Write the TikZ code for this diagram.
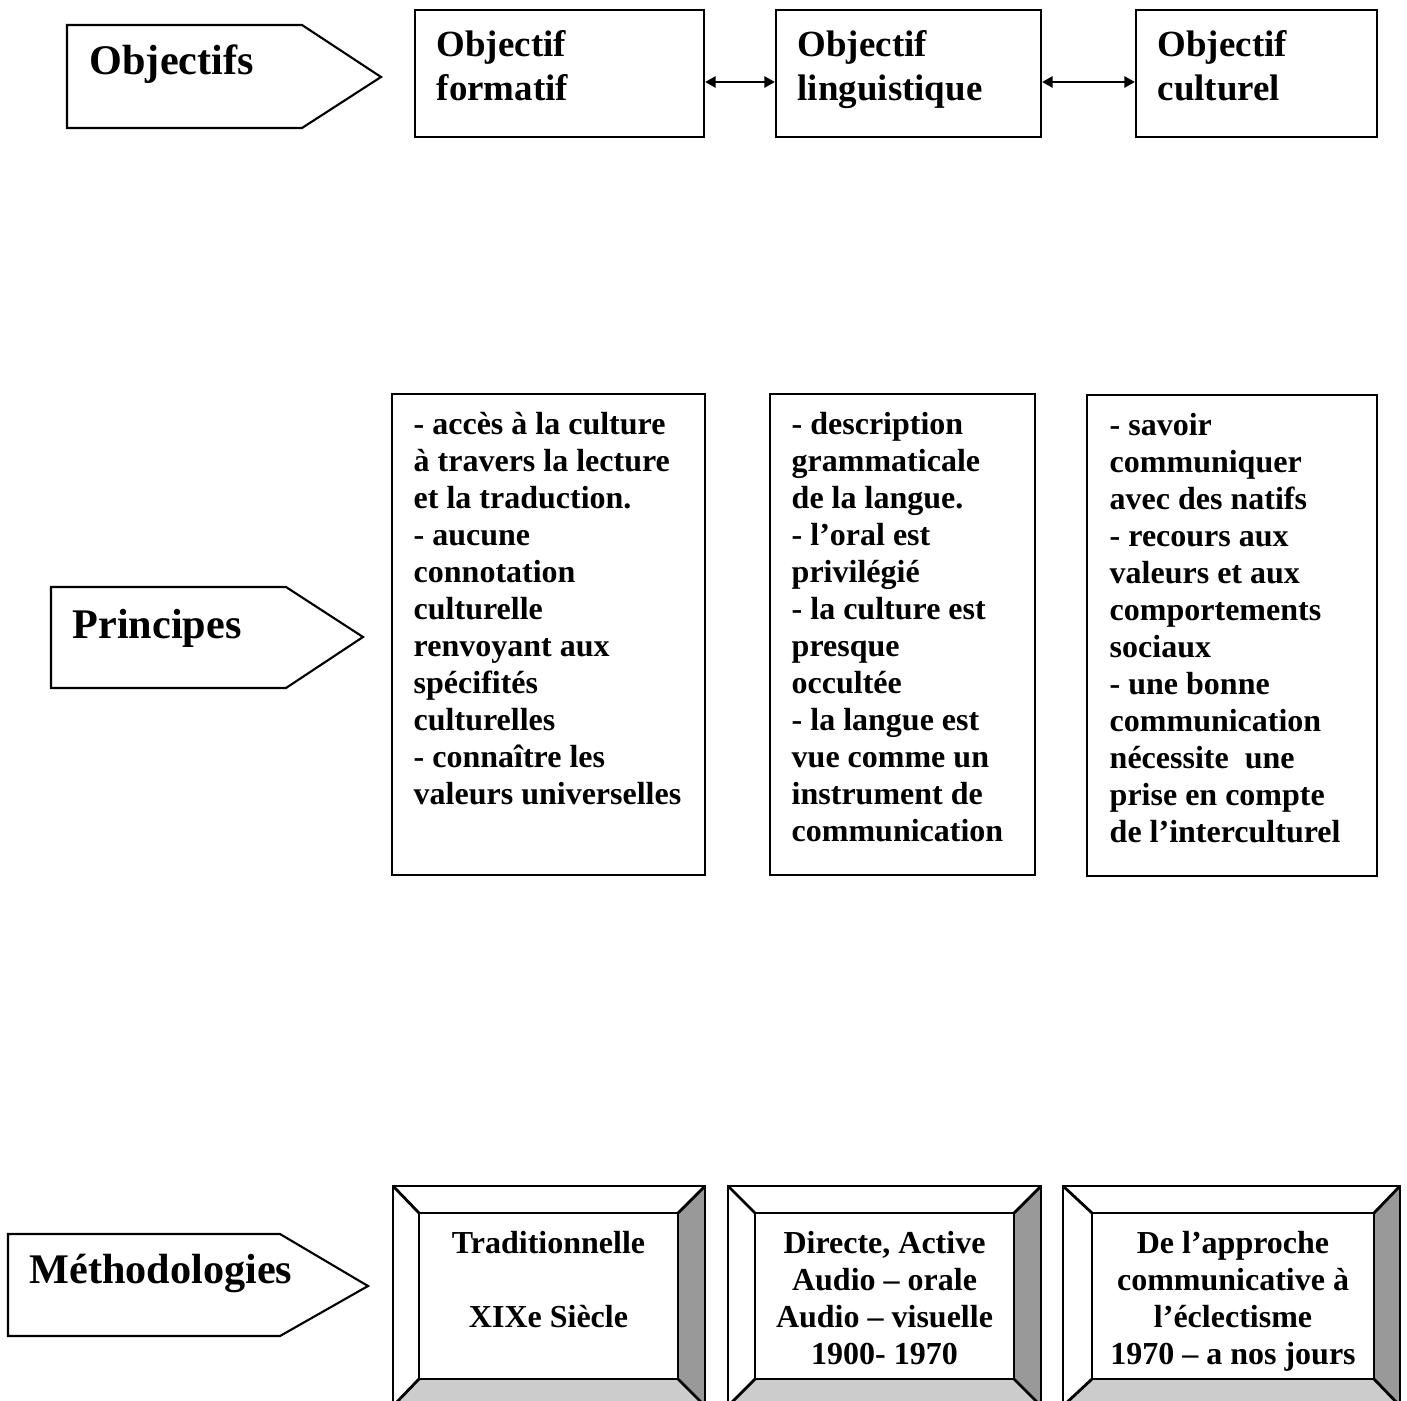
\documentclass[tikz,border=0pt]{standalone}
\usepackage{fontspec}
\setmainfont{Liberation Serif}
\usetikzlibrary{arrows.meta}
\definecolor{bevelright}{HTML}{999999}
\definecolor{bevelbottom}{HTML}{CCCCCC}
\tikzset{
  outline/.style={draw, line width=0.6pt},
  tagtext/.style={font=\fontsize{12}{14}\selectfont\bfseries, anchor=base west, inner sep=0pt},
  objbox/.style={draw, line width=0.6pt, inner sep=0pt},
  objtext/.style={font=\fontsize{10.5}{12.5}\selectfont\bfseries, align=left, inner sep=0pt, anchor=north west},
  printext/.style={font=\fontsize{9.1}{10.5}\selectfont\bfseries, align=left, inner sep=0pt, anchor=north west},
  bevel/.style={draw, line width=0.8pt},
  methtext/.style={font=\fontsize{9.1}{10.5}\selectfont\bfseries, align=center, inner sep=0pt, anchor=north},
  link/.style={{Triangle[length=3pt,width=3.2pt]}-{Triangle[length=3pt,width=3.2pt]}, line width=0.6pt},
}
\begin{document}
\begin{tikzpicture}[x=0.01cm, y=-0.01cm]
  \useasboundingbox (0,0) rectangle (1407,1401);
  % Objectifs
  \draw[outline] (67,25) -- (302,25) -- (381,77) -- (302,128) -- (67,128) -- cycle;
  \node[tagtext] (objectifs) at (89,75) {Objectifs};
  \node[objbox, minimum width=2.89cm, minimum height=1.27cm] (formatif) at (559.5,73.5) {};
  \node[objtext] (formatiftxt) at (436,30) {Objectif\\formatif};
  \node[objbox, minimum width=2.65cm, minimum height=1.27cm] (linguistique) at (908.5,73.5) {};
  \node[objtext] (linguistiquetxt) at (797,30) {Objectif\\linguistique};
  \node[objbox, minimum width=2.41cm, minimum height=1.27cm] (culturel) at (1256.5,73.5) {};
  \node[objtext] (culturetxt) at (1157,30) {Objectif\\culturel};
  \draw[link] ([yshift=-0.085cm]formatif.east) -- ([yshift=-0.085cm]linguistique.west);
  \draw[link] ([yshift=-0.085cm]linguistique.east) -- ([yshift=-0.085cm]culturel.west);

  % Principes
  \draw[outline] (51,587) -- (286,587) -- (363,637) -- (286,688) -- (51,688) -- cycle;
  \node[tagtext] (principes) at (72,638) {Principes};
  \draw[outline] (392,394) rectangle (705,875);
  \node[printext] (formatifpr) at (413,412) {- accès à la culture\\à travers la lecture\\et la traduction.\\- aucune\\connotation\\culturelle\\renvoyant aux\\spécifités\\culturelles\\- connaître les\\valeurs universelles};
  \draw[outline] (770,394) rectangle (1035,875);
  \node[printext] (linguistiquepr) at (791,412) {- description\\grammaticale\\de la langue.\\- l’oral est\\privilégié\\- la culture est\\presque\\occultée\\- la langue est\\vue comme un\\instrument de\\communication};
  \draw[outline] (1087,395) rectangle (1377,876);
  \node[printext] (culturelpr) at (1109,413) {- savoir\\communiquer\\avec des natifs\\- recours aux\\valeurs et aux\\comportements\\sociaux\\- une bonne\\communication\\nécessite~ une\\prise en compte\\de l’interculturel};

  % Methodologies
  \draw[outline] (8,1234) -- (280,1234) -- (368,1286) -- (280,1336) -- (8,1336) -- cycle;
  \node[tagtext] (methodologies) at (29,1283) {Méthodologies};

  \fill[bevelbottom] (393,1406) -- (419,1379) -- (678,1379) -- (705,1406) -- cycle;
  \fill[bevelright] (705,1186) -- (678,1213) -- (678,1379) -- (705,1406) -- cycle;
  \draw[bevel] (393,1186) rectangle (705,1406);
  \draw[bevel] (419,1213) rectangle (678,1379);
  \draw[bevel] (393,1186) -- (419,1213) (705,1186) -- (678,1213) (393,1406) -- (419,1379) (705,1406) -- (678,1379);
  \node[methtext] (traditionnelle) at (548.5,1231) {Traditionnelle\\[10.5pt]XIXe Siècle};

  \fill[bevelbottom] (728,1406) -- (755,1379) -- (1014,1379) -- (1041,1406) -- cycle;
  \fill[bevelright] (1041,1186) -- (1014,1213) -- (1014,1379) -- (1041,1406) -- cycle;
  \draw[bevel] (728,1186) rectangle (1041,1406);
  \draw[bevel] (755,1213) rectangle (1014,1379);
  \draw[bevel] (728,1186) -- (755,1213) (1041,1186) -- (1014,1213) (728,1406) -- (755,1379) (1041,1406) -- (1014,1379);
  \node[methtext] (directe) at (884.5,1231) {Directe, Active\\Audio – orale\\Audio – visuelle\\1900- 1970};

  \fill[bevelbottom] (1063,1406) -- (1092,1379) -- (1374,1379) -- (1400,1406) -- cycle;
  \fill[bevelright] (1400,1186) -- (1374,1213) -- (1374,1379) -- (1400,1406) -- cycle;
  \draw[bevel] (1063,1186) rectangle (1400,1406);
  \draw[bevel] (1092,1213) rectangle (1374,1379);
  \draw[bevel] (1063,1186) -- (1092,1213) (1400,1186) -- (1374,1213) (1063,1406) -- (1092,1379) (1400,1406) -- (1374,1379);
  \node[methtext] (communicative) at (1233,1231) {De l’approche\\communicative à\\l’éclectisme\\1970 – a nos jours};
\end{tikzpicture}
\end{document}
